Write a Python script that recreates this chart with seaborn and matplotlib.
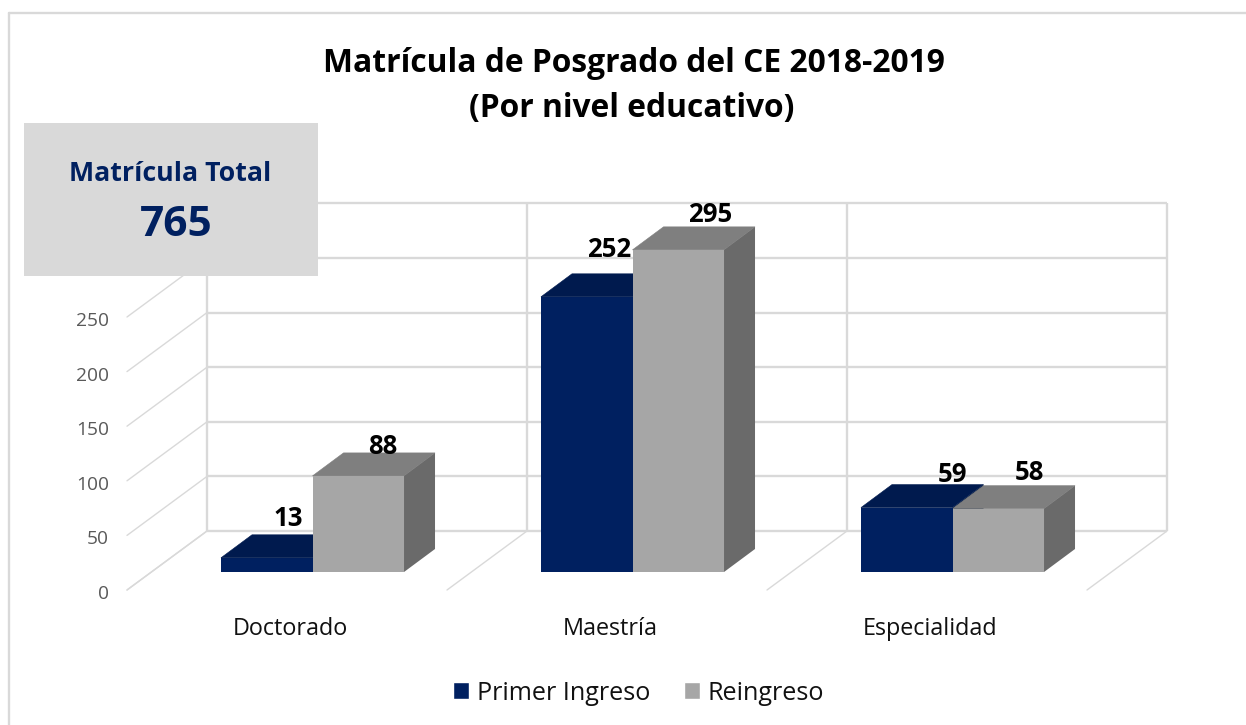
import matplotlib
matplotlib.use('Agg')
import matplotlib.pyplot as plt
from matplotlib.patches import Polygon, Rectangle
import pandas as pd
import seaborn as sns

# Data
categories = ['Doctorado', 'Maestría', 'Especialidad']
primer_ingreso = [13, 252, 59]
reingreso = [88, 295, 58]
y_ticks = [0, 50, 100, 150, 200, 250, 300]
visible_tick_labels = [0, 50, 100, 150, 200, 250]
series_names = ['Primer Ingreso', 'Reingreso']
total_label = 'Matrícula Total'
total_value = '765'

# Pixel scale of the picture (the axes fills the whole figure)
W, H = 1246, 725
PX_X = 320.0    # pixels per category
PX_Y = 1.092    # pixels per unit
X0_PX, Y0_PX = 312.5, 572.0


def dx(px):
    return px / PX_X


def dy(px):
    return px / PX_Y


NAVY = '#002060'
NAVY_TOP = '#001A4E'
NAVY_SIDE = '#001740'
GRAY = '#A6A6A6'
GRAY_TOP = '#7F7F7F'
GRAY_SIDE = '#6A6A6A'
GRID = '#D9D9D9'

sns.set_theme(style='white')
plt.rcParams['font.family'] = ['Open Sans', 'DejaVu Sans']

df = pd.DataFrame({
    'nivel': categories * 2,
    'matricula': primer_ingreso + reingreso,
    'tipo': [series_names[0]] * 3 + [series_names[1]] * 3,
})

fig = plt.figure(figsize=(W / 100, H / 100), dpi=100)
ax = fig.add_axes([0, 0, 1, 1])
sns.barplot(data=df, x='nivel', y='matricula', hue='tipo', order=categories,
            hue_order=series_names, palette=[NAVY, GRAY], width=0.572,
            gap=0, saturation=1, errorbar=None, legend=False, ax=ax, linewidth=0)
ax.set_xlim(dx(-X0_PX), dx(W - X0_PX))
ax.set_ylim(dy(Y0_PX - H), dy(Y0_PX))
ax.axis('off')

# Back wall, left wall and floor grid
back_dx, back_dy = dx(-105.5), dy(41)
wall_dx, wall_dy = dx(-80), dy(-59)
wall_xs = [i + back_dx for i in range(4)]
for t in y_ticks:
    yb = t + back_dy
    ax.plot([wall_xs[0], wall_xs[-1]], [yb, yb], color=GRID, lw=1.7, zorder=1,
            solid_capstyle='butt')
    ax.plot([wall_xs[0], wall_xs[0] + wall_dx], [yb, yb + wall_dy], color=GRID,
            lw=1.0, zorder=1)
for x in wall_xs:
    ax.plot([x, x], [back_dy, y_ticks[-1] + back_dy], color=GRID, lw=1.7, zorder=1,
            solid_capstyle='butt')
    ax.plot([x, x + wall_dx], [back_dy, back_dy + wall_dy], color=GRID, lw=1.0, zorder=1)

# Tick labels
for t in visible_tick_labels:
    ax.text(wall_xs[0] + dx(-98), t + back_dy + wall_dy + dy(-4), str(t), ha='right',
            va='center', fontsize=13.8, color='#595959', zorder=2)
for i, c in enumerate(categories):
    ax.text(i + dx(-22), dy(-57), c, ha='center', va='center', fontsize=16.8,
            color='#111111', zorder=2)

# 3D faces built from the seaborn bars
depth_x, depth_y = dx(31), dy(23)
faces = [(ax.containers[0], NAVY_TOP, NAVY_SIDE, 2, 4, 4),
         (ax.containers[1], GRAY_TOP, GRAY_SIDE, 3, 3, 5)]
for cont, top_c, side_c, z_side, z_top, z_front in faces:
    for bar in cont:
        x0, w, h = bar.get_x(), bar.get_width(), bar.get_height()
        bar.set_zorder(z_front)
        ax.add_patch(Polygon([(x0, h), (x0 + depth_x, h + depth_y),
                              (x0 + w + depth_x, h + depth_y), (x0 + w, h)],
                             closed=True, fc=top_c, ec=top_c, lw=0.4, zorder=z_top))
        ax.add_patch(Polygon([(x0 + w, 0), (x0 + w + depth_x, depth_y),
                              (x0 + w + depth_x, h + depth_y), (x0 + w, h)],
                             closed=True, fc=side_c, ec='none', zorder=z_side))

# Value labels, moved by hand in the original
label_dx = [[22, 22, 46], [24, 32, 31]]
label_dy = [[39, 47, 33], [29, 35, 36]]
for s, cont in enumerate(ax.containers[:2]):
    for i, bar in enumerate(cont):
        ax.annotate(str(int(bar.get_height())),
                    (bar.get_x() + bar.get_width() / 2, bar.get_height()),
                    xytext=(label_dx[s][i] * 0.72, label_dy[s][i] * 0.72),
                    textcoords='offset points', ha='center', va='center',
                    fontsize=18.5, fontweight='bold', color='black', zorder=7)

# Total box
ax.add_patch(Rectangle((dx(24 - X0_PX), dy(Y0_PX - 276)), dx(294), dy(153),
                       fc='#D9D9D9', ec='none', zorder=6))
ax.text(dx(170.5 - X0_PX), dy(Y0_PX - 174), total_label, ha='center', va='center',
        fontsize=19.3, fontweight='bold', color=NAVY, zorder=7)
ax.text(dx(176.5 - X0_PX), dy(Y0_PX - 226), total_value, ha='center', va='center',
        fontsize=30.5, fontweight='bold', color=NAVY, zorder=7)

# Title
fig.text(634 / W, 1 - 63 / H, 'Matrícula de Posgrado del CE 2018-2019', ha='center',
         va='center', fontsize=22.9, fontweight='bold', color='black')
fig.text(632 / W, 1 - 109 / H, '(Por nivel educativo)', ha='center', va='center',
         fontsize=22.9, fontweight='bold', color='black')

# Legend
handles = [Rectangle((0, 0), 1, 1, fc=NAVY), Rectangle((0, 0), 1, 1, fc=GRAY)]
fig.legend(handles, series_names, loc='center', bbox_to_anchor=(638.5 / W, 1 - 693 / H),
           ncol=2, frameon=False, fontsize=18.1, handlelength=0.64, handleheight=0.64,
           handletextpad=0.32, columnspacing=1.32, labelcolor='#111111')

# Chart frame: only the top and left edges fall inside the picture
ax.plot([dx(9 - X0_PX), dx(9 - X0_PX)], [dy(Y0_PX - H), dy(Y0_PX - 13)], color=GRID, lw=1.7)
ax.plot([dx(9 - X0_PX), dx(W - X0_PX)], [dy(Y0_PX - 13), dy(Y0_PX - 13)], color=GRID, lw=1.7)
ax.set_xlim(dx(-X0_PX), dx(W - X0_PX))
ax.set_ylim(dy(Y0_PX - H), dy(Y0_PX))

fig.savefig('out.png', dpi=100)
